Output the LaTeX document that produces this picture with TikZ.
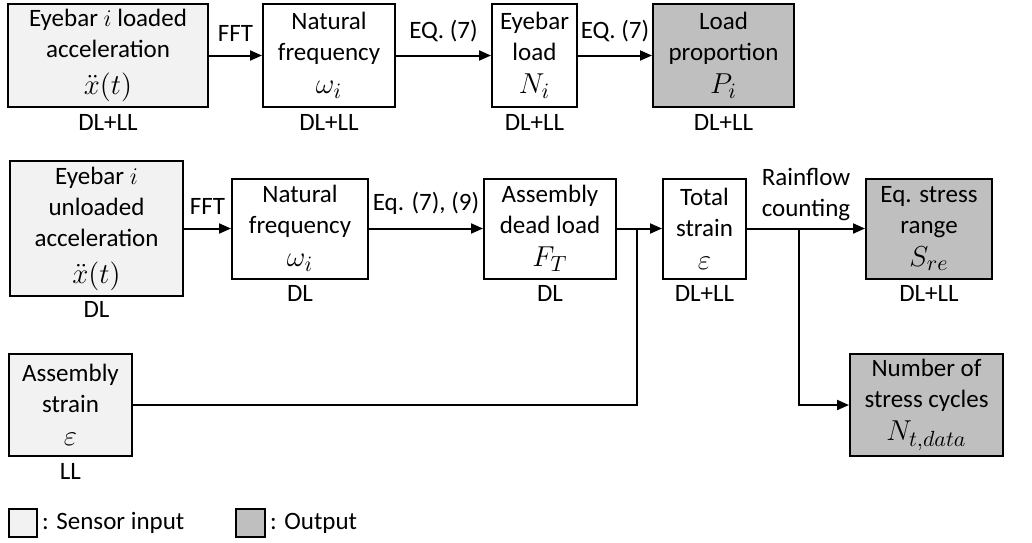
\documentclass[tikz,border=0pt]{standalone}
\usepackage{fontspec}
\setmainfont{Carlito}
\usepackage{tikz}
\usetikzlibrary{arrows.meta, positioning, calc}
\definecolor{sensorgray}{HTML}{F2F2F2}
\definecolor{outgray}{HTML}{BFBFBF}
%% larger math, as in the figure
\newcommand{\mq}[1]{{\fontsize{15.5}{15.5}\selectfont$#1$}}
\tikzset{
  %% Generic block
  blk/.style={
    rectangle, draw=black, fill=#1,
    text centered, align=center,
    inner sep=0pt, line width=1pt
  },
  blk/.default=white,
  %% Arrow
  arr/.style={-{Triangle[length=6pt,width=5pt]},
              draw=black, line width=1pt},
  %% Plain connector
  wire/.style={draw=black, line width=1pt},
  %% Load case tag under a block
  tag/.style={inner sep=1pt},
}

\begin{document}
\begin{tikzpicture}[x=0.5pt, y=-0.5pt,
                    every node/.style={font=\fontsize{12.5}{15.5}\selectfont}]
  \useasboundingbox (0,0) rectangle (1032,542);

  %% Row 1: loaded eyebar
  \node[blk=sensorgray, minimum width=100pt, minimum height=51.5pt] (a1) at (108,55.5)
        {Eyebar $i$ loaded\\acceleration\\[3pt]\mq{\ddot{x}(t)}};
  \node[blk, minimum width=66pt, minimum height=51.5pt] (a2) at (329,55.5)
        {Natural\\frequency\\[1pt]\mq{\omega_i}};
  \node[blk, minimum width=42.5pt, minimum height=51.5pt] (a3) at (534.5,55.5)
        {Eyebar\\load\\[1pt]\mq{N_i}};
  \node[blk=outgray, minimum width=70.5pt, minimum height=51.5pt] (a4) at (723.5,55.5)
        {Load\\proportion\\[1pt]\mq{P_i}};

  \node[tag, below=2pt of a1] (a1t) {DL+LL};
  \node[tag, below=2pt of a2] (a2t) {DL+LL};
  \node[tag, below=2pt of a3] (a3t) {DL+LL};
  \node[tag, below=2pt of a4] (a4t) {DL+LL};

  %% Row 2: unloaded eyebar
  \node[blk=sensorgray, minimum width=86.5pt, minimum height=67.5pt] (b1) at (96.5,228.5)
        {Eyebar $i$\\unloaded\\acceleration\\[3pt]\mq{\ddot{x}(t)}};
  \node[blk, minimum width=68pt, minimum height=50pt] (b2) at (300,228.5)
        {Natural\\frequency\\[1pt]\mq{\omega_i}};
  \node[blk, minimum width=66pt, minimum height=50pt] (b3) at (550,228.5)
        {Assembly\\dead load\\[1pt]\mq{F_T}};
  \node[blk, minimum width=41.5pt, minimum height=50pt] (b4) at (704.5,228.5)
        {Total\\strain\\[1pt]\mq{\varepsilon}};
  \node[blk=outgray, minimum width=63pt, minimum height=50pt] (b5) at (929,228.5)
        {Eq. stress\\range\\[1pt]\mq{S_{re}}};

  \node[tag, below=1pt of b1] (b1t) {DL};
  \node[tag, below=2pt of b2] (b2t) {DL};
  \node[tag, below=2pt of b3] (b3t) {DL};
  \node[tag, below=2pt of b4] (b4t) {DL+LL};
  \node[tag, below=2pt of b5] (b5t) {DL+LL};

  %% Row 3: strain sensor and cycle count
  \node[blk=sensorgray, minimum width=61.5pt, minimum height=51pt] (c1) at (70.5,405)
        {Assembly\\strain\\[1pt]\mq{\varepsilon}};
  \node[tag, below=2pt of c1] (c1t) {LL};
  \node[blk=outgray, minimum width=76.5pt, minimum height=51pt] (b6) at (926.5,405)
        {Number of\\stress cycles\\[1pt]\mq{N_{t,data}}};

  %% Straight arrows
  \draw[arr] (a1) -- node[above=3pt]{FFT} (a2);
  \draw[arr] (a2) -- node[above=3pt]{EQ. (7)} (a3);
  \draw[arr] (a3) -- node[above=3pt]{EQ. (7)} (a4);
  \draw[arr] (b1) -- node[above=3pt]{FFT} (b2);
  \draw[arr] (b2) -- node[above=3pt]{Eq. (7), (9)} (b3);
  \draw[arr] (b3) -- (b4);
  \draw[arr] (b4) -- node[above, align=center]{Rainflow\\counting} (b5);

  %% Strain joins, count branches
  \coordinate (jn) at ($(b3.east)!0.45!(b4.west)$);
  \draw[wire] (c1.east) -| (jn);
  \coordinate (br) at ($(b4.east)!0.44!(b5.west)$);
  \draw[arr] (br) |- (b6.west);

  %% Legend
  \node[blk=sensorgray, minimum width=14pt, minimum height=14pt, line width=0.8pt] (lg1) at (23,523) {};
  \node[inner sep=1pt, right=1pt of lg1] (lg1t) {: Sensor input};
  \node[blk=outgray, minimum width=14.5pt, minimum height=14pt, line width=0.8pt] (lg2) at (250.5,523) {};
  \node[inner sep=1pt, right=1pt of lg2] (lg2t) {: Output};

\end{tikzpicture}
\end{document}
